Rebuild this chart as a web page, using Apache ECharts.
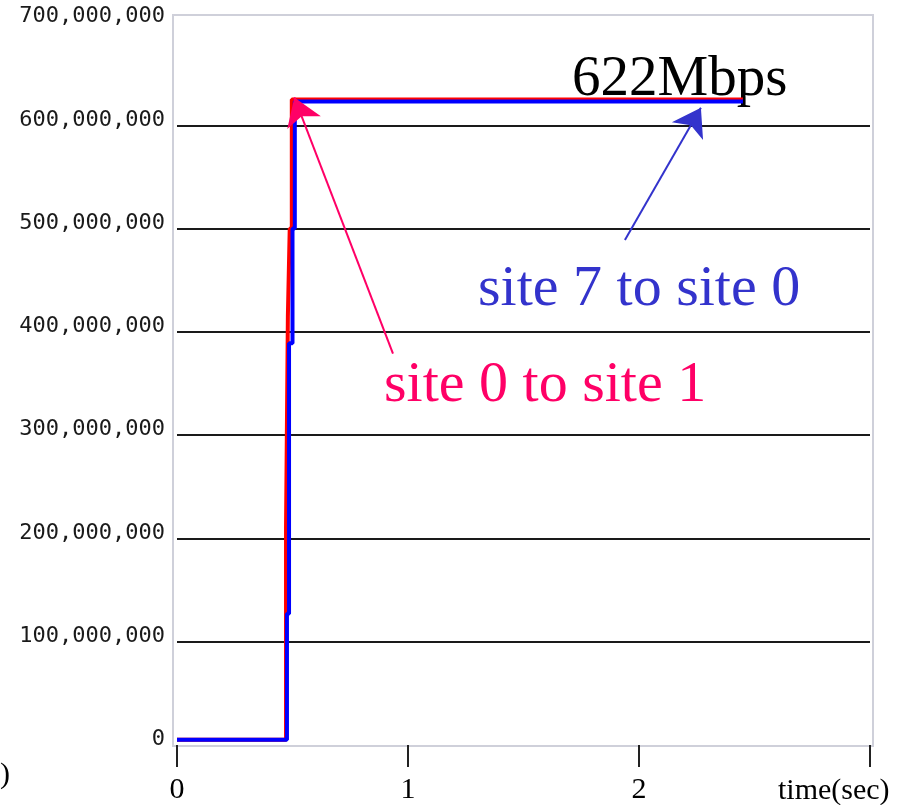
<!DOCTYPE html>
<html>
<head>
<meta charset="utf-8">
<script src="https://cdn.jsdelivr.net/npm/echarts@6/dist/echarts.min.js"></script>
<style>
html,body{margin:0;padding:0;background:#fff;}
#chart{width:915px;height:805px;}
</style>
</head>
<body>
<div id="chart"></div>
<script>
// Data: [time (sec), throughput (bps)]
var siteSevenToZero = [
  [0, 5e6], [0.476, 5e6], [0.476, 127e6], [0.485, 127e6], [0.485, 389e6],
  [0.500, 389e6], [0.500, 500e6], [0.510, 500e6], [0.510, 623e6], [2.45, 623e6]
];
var siteZeroToOne = [
  [0, 5e6], [0.472, 5e6], [0.472, 210e6], [0.480, 210e6], [0.480, 415e6],
  [0.488, 415e6], [0.488, 500e6], [0.497, 500e6], [0.497, 625e6], [2.45, 625e6]
];
// Annotation arrows (data coords): [start, end]
var blueArrow = [[1.939, 489e6], [2.268, 617e6]];
var redArrow = [[0.935, 379e6], [0.508, 627e6]];
var xTicks = [0, 1, 2, 3];
var yMax = 700e6, yStep = 100e6;

var chart = echarts.init(document.getElementById('chart'));
var serif = 'Liberation Serif';
chart.setOption({
  animation: false,
  backgroundColor: '#fff',
  grid: {left: 177, right: 45, top: 22, bottom: 60},
  xAxis: {
    type: 'value', min: 0, max: 3, interval: 1, offset: 3,
    axisLine: {show: false},
    axisTick: {show: true, length: 22, lineStyle: {color: '#222', width: 2}},
    axisLabel: {
      fontFamily: serif, fontSize: 30, color: '#000', margin: 27,
      formatter: function (v) { return v === xTicks[xTicks.length - 1] ? '' : String(v); }
    },
    splitLine: {show: false}
  },
  yAxis: {
    type: 'value', min: 0, max: yMax, interval: yStep,
    axisLine: {show: false},
    axisTick: {show: false},
    axisLabel: {
      fontFamily: 'DejaVu Sans Mono', fontSize: 22, color: '#1a1a1a', margin: 12,
      verticalAlign: 'bottom', lineHeight: 11,
      formatter: function (v) { return Math.round(v).toLocaleString('en-US'); }
    },
    splitLine: {show: true, showMinLine: false, showMaxLine: false, lineStyle: {color: '#1a1a1a', width: 2}}
  },
  graphic: [
    {type: 'rect', z: 0, silent: true, shape: {x: 173, y: 15, width: 700, height: 731},
     style: {fill: 'none', stroke: '#cfd0da', lineWidth: 2}},
    {type: 'text', left: 572, top: 52, silent: true,
     style: {text: '622Mbps', fontFamily: serif, fontSize: 57, fill: '#000'}},
    {type: 'text', left: 478, top: 261, silent: true,
     style: {text: 'site 7 to site 0', fontFamily: serif, fontSize: 58, fill: '#3333cc'}},
    {type: 'text', left: 384, top: 357, silent: true,
     style: {text: 'site 0 to site 1', fontFamily: serif, fontSize: 58, fill: '#ff0066'}},
    {type: 'text', left: 778, top: 776, silent: true,
     style: {text: 'time(sec)', fontFamily: serif, fontSize: 30, fill: '#000'}},
    {type: 'text', left: 0, top: 760, silent: true,
     style: {text: ')', fontFamily: serif, fontSize: 30, fill: '#000'}}
  ],
  series: [
    {
      name: 'site 0 to site 1', type: 'line', data: siteZeroToOne, showSymbol: false,
      lineStyle: {color: '#ff0000', width: 4}, z: 3, silent: true,
      markLine: {
        silent: true, symbol: ['none', 'arrow'], symbolSize: 27,
        label: {show: false},
        lineStyle: {color: '#ff0066', width: 2, type: 'solid'},
        data: [[{coord: redArrow[0]}, {coord: redArrow[1]}]]
      }
    },
    {
      name: 'site 7 to site 0', type: 'line', data: siteSevenToZero, showSymbol: false,
      lineStyle: {color: '#0000ff', width: 4}, z: 4, silent: true,
      markLine: {
        silent: true, symbol: ['none', 'arrow'], symbolSize: 27,
        label: {show: false},
        lineStyle: {color: '#3333cc', width: 2, type: 'solid'},
        data: [[{coord: blueArrow[0]}, {coord: blueArrow[1]}]]
      }
    }
  ]
});
</script>
</body>
</html>
